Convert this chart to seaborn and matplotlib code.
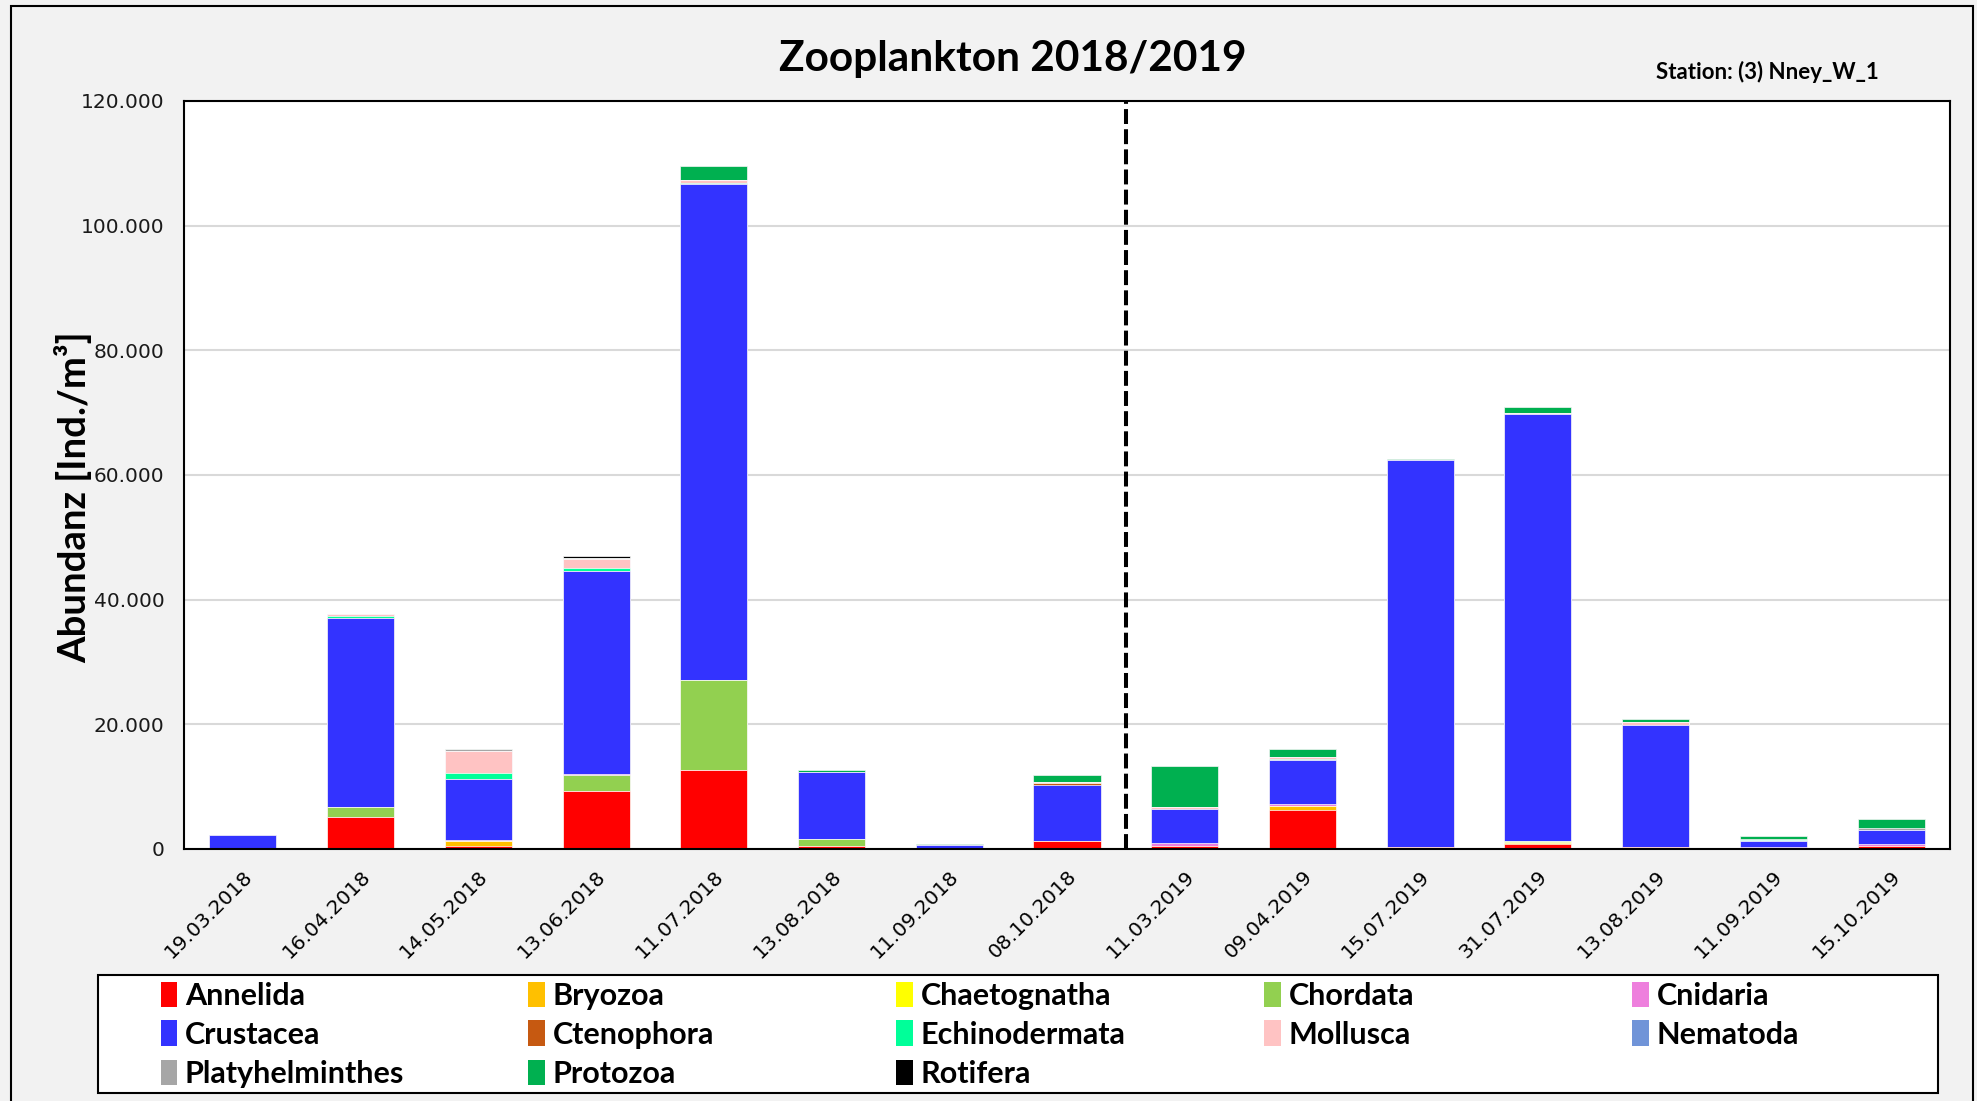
import numpy as np
import pandas as pd
import seaborn as sns
import matplotlib.pyplot as plt
from matplotlib.patches import Patch, Rectangle
from matplotlib.ticker import FuncFormatter, MultipleLocator

# Daten (Ind./m3)
datum = ["19.03.2018", "16.04.2018", "14.05.2018", "13.06.2018", "11.07.2018",
         "13.08.2018", "11.09.2018", "08.10.2018", "11.03.2019", "09.04.2019",
         "15.07.2019", "31.07.2019", "13.08.2019", "11.09.2019", "15.10.2019"]

annelida = [0, 5080, 530, 9260, 12680, 530, 0, 1230, 530, 6210, 370, 800, 370, 160, 530]
bryozoa = [0, 0, 750, 0, 0, 0, 0, 0, 0, 640, 0, 200, 0, 0, 0]
chaetognatha = [0, 0, 0, 0, 0, 0, 0, 0, 0, 0, 0, 200, 0, 0, 0]
chordata = [0, 1700, 0, 2670, 14390, 1120, 0, 0, 0, 0, 0, 100, 0, 0, 0]
cnidaria = [0, 0, 150, 160, 0, 0, 0, 0, 430, 320, 0, 0, 0, 160, 270]
crustacea = [2300, 30280, 9840, 32530, 79660, 10640, 600, 9100, 5510, 7110, 62070, 68450, 19470, 960, 2250]
ctenophora = [0, 0, 0, 0, 0, 0, 0, 270, 0, 0, 0, 0, 0, 0, 0]
echinodermata = [0, 300, 910, 430, 160, 0, 0, 0, 0, 210, 0, 0, 0, 160, 0]
mollusca = [0, 400, 3580, 1390, 370, 0, 0, 100, 320, 270, 0, 210, 480, 0, 0]
nematoda = [0, 0, 0, 0, 0, 0, 0, 0, 0, 0, 0, 0, 0, 0, 0]
platyhelminthes = [0, 0, 210, 320, 0, 0, 0, 0, 0, 0, 0, 0, 0, 210, 270]
protozoa = [0, 0, 0, 0, 2250, 430, 150, 1230, 6580, 1280, 160, 1020, 480, 370, 1500]
rotifera = [0, 0, 0, 210, 0, 0, 0, 0, 0, 0, 0, 0, 0, 0, 0]

gruppen = ["Annelida", "Bryozoa", "Chaetognatha", "Chordata", "Cnidaria",
           "Crustacea", "Ctenophora", "Echinodermata", "Mollusca", "Nematoda",
           "Platyhelminthes", "Protozoa", "Rotifera"]
farben = ["#FF0000", "#FFC000", "#FFFF00", "#92D050", "#EE7FDD",
          "#3333FF", "#C65911", "#00FF99", "#FFC3C3", "#7094D8",
          "#A6A6A6", "#00B050", "#000000"]

tabelle = pd.DataFrame({
    "Annelida": annelida, "Bryozoa": bryozoa, "Chaetognatha": chaetognatha,
    "Chordata": chordata, "Cnidaria": cnidaria, "Crustacea": crustacea,
    "Ctenophora": ctenophora, "Echinodermata": echinodermata, "Mollusca": mollusca,
    "Nematoda": nematoda, "Platyhelminthes": platyhelminthes, "Protozoa": protozoa,
    "Rotifera": rotifera}, index=datum)
kumuliert = tabelle[gruppen].cumsum(axis=1)

fig = plt.figure(figsize=(19.77, 11.01), dpi=100, facecolor="#F2F2F2")
ax = fig.add_axes([0.0931, 0.2289, 0.8932, 0.6794])
ax.set_facecolor("white")

# gestapelte Balken: von oben nach unten uebereinander zeichnen
for gruppe, farbe in reversed(list(zip(gruppen, farben))):
    sns.barplot(x=datum, y=kumuliert[gruppe].values, color=farbe, saturation=1,
                width=0.57, edgecolor="white", linewidth=0.5, ax=ax)

ax.set_xlim(-0.5, len(datum) - 0.5)
ax.set_ylim(0, 120000)
ax.yaxis.set_major_locator(MultipleLocator(20000))
ax.yaxis.set_major_formatter(FuncFormatter(lambda v, p: f"{int(v):,}".replace(",", ".")))
ax.grid(axis="y", color="#D9D9D9", linewidth=1.5)
ax.set_axisbelow(True)
ax.tick_params(length=0)
ax.tick_params(axis="y", labelsize=14.5, labelcolor="#1a1a1a", pad=14)
ax.tick_params(axis="x", pad=13)
for lab in ax.get_xticklabels():
    lab.set_rotation(45)
    lab.set_ha("right")
    lab.set_va("top")
    lab.set_rotation_mode("anchor")
    lab.set_fontsize(14.5)
for s in ax.spines.values():
    s.set_color("black")
    s.set_linewidth(1.5)

ax.axvline(7.5, color="black", linewidth=2.9, linestyle=(0, (3.7, 1.3)))

ax.set_ylabel("Abundanz [Ind./m³]", fontsize=27.5, fontweight="bold", family="Lato")
ax.yaxis.set_label_coords(-0.052, 0.47)

fig.text(0.5125, 0.946, "Zooplankton 2018/2019", ha="center", va="center",
         fontsize=30.5, fontweight="bold", family="Lato")
fig.text(0.894, 0.935, "Station: (3) Nney_W_1", ha="center", va="center",
         fontsize=16, fontweight="bold", family="Lato")

# Legende: Rahmen + Eintraege zeilenweise
fig.patches.append(Rectangle((98 / 1977, 1 - 1093 / 1101), 1840 / 1977, 118 / 1101,
                             transform=fig.transFigure, facecolor="white",
                             edgecolor="black", linewidth=1.5, zorder=1))
zeilen_y = [0.0955, 0.0605, 0.0245]
for i, (gruppe, farbe) in enumerate(zip(gruppen, farben)):
    r, c = divmod(i, 5)
    fig.legend([Patch(facecolor=farbe, edgecolor="none")], [gruppe],
               loc="center left", bbox_to_anchor=(0.0812 + c * 0.1861, zeilen_y[r]),
               frameon=False, borderpad=0, borderaxespad=0,
               prop={"family": "Lato", "weight": "bold", "size": 22},
               handlelength=0.55, handleheight=0.9, handletextpad=0.25)

fig.patches.append(Rectangle((11 / 1977, -0.01), 1962 / 1977, 1 - 6 / 1101 + 0.01,
                             transform=fig.transFigure, fill=False,
                             edgecolor="black", linewidth=1.5))

fig.savefig("out.png", dpi=100, facecolor=fig.get_facecolor())
